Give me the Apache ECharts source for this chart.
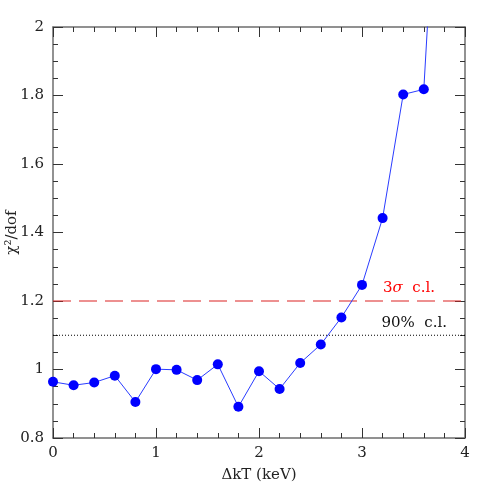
<!DOCTYPE html>
<html><head><meta charset="utf-8">
<script src="https://cdn.jsdelivr.net/npm/echarts@6/dist/echarts.min.js"></script>
<style>html,body{margin:0;padding:0;background:#fff}#c{width:491px;height:491px}</style>
</head><body><div id="c"></div>
<script>
const dkT = [0, 0.2, 0.4, 0.6, 0.8, 1.0, 1.2, 1.4, 1.6, 1.8, 2.0, 2.2, 2.4, 2.6, 2.8, 3.0, 3.2, 3.4, 3.6, 3.8];
const chi2dof = [0.964, 0.954, 0.962, 0.982, 0.905, 1.001, 0.999, 0.969, 1.015, 0.891, 0.995, 0.943, 1.019, 1.073, 1.152, 1.247, 1.442, 1.803, 1.818, 2.86];
const xRange = [0, 4];
const sigma3Level = 1.2;
const cl90Level = 1.1;

const font = 'DejaVu Serif';
const fs = 15;
const axisColor = '#6e6e6e';
const chart = echarts.init(document.getElementById('c'));
const tickStyle = {color: '#333', width: 1};
function axisCommon(minorSplit) {
  return {
    axisLine: {show: true, onZero: false, lineStyle: {color: axisColor, width: 1.5}},
    axisTick: {show: true, inside: true, length: 10, lineStyle: tickStyle},
    minorTick: {show: true, splitNumber: minorSplit, length: 5, lineStyle: tickStyle},
    splitLine: {show: false}
  };
}
function levelSeries(level, color, dash, width, label) {
  return {
    type: 'line', xAxisIndex: 0, yAxisIndex: 0, silent: true,
    data: xRange.map(x => [x, level]),
    symbol: 'none',
    itemStyle: {color: color},
    lineStyle: {color: color, type: dash, width: width},
    markLine: {silent: true, symbol: 'none',
      lineStyle: {color: 'rgba(255,255,255,0)', width: 1, type: 'solid'}, label: label,
      data: [{yAxis: level}]}
  };
}
chart.setOption({
  animation: false,
  grid: {left: 53, right: 26, top: 27, bottom: 53, containLabel: false, outerBoundsMode: 'none'},
  xAxis: [
    Object.assign({type: 'value', min: xRange[0], max: xRange[1], interval: 1, position: 'bottom',
      name: 'ΔkT (keV)', nameLocation: 'middle', nameGap: 30, nameMoveOverlap: false,
      nameTextStyle: {fontFamily: font, fontSize: fs, color: '#222'},
      axisLabel: {fontFamily: font, fontSize: fs, color: '#222', margin: 8}}, axisCommon(5)),
    Object.assign({type: 'value', min: xRange[0], max: xRange[1], interval: 1, position: 'top',
      axisLabel: {show: false}}, axisCommon(5))
  ],
  yAxis: [
    Object.assign({type: 'value', min: 0.8, max: 2, interval: 0.2, position: 'left',
      name: 'χ²/dof', nameLocation: 'middle', nameGap: 33, nameMoveOverlap: false,
      nameTextStyle: {fontFamily: font, fontSize: fs, color: '#222'},
      axisLabel: {fontFamily: font, fontSize: fs, color: '#222', margin: 9,
        formatter: v => String(Math.round(v * 10) / 10)}}, axisCommon(4)),
    Object.assign({type: 'value', min: 0.8, max: 2, interval: 0.2, position: 'right',
      axisLabel: {show: false}}, axisCommon(4))
  ],
  series: [
    levelSeries(sigma3Level, '#dc2222', [18, 8], 1.2,
      {show: true, position: 'insideEndTop', distance: [30, 5],
        formatter: '{a|3}{b|σ}{a|  c.l.}',
        rich: {a: {fontFamily: font, fontSize: fs, color: '#ff0000'},
               b: {fontFamily: font, fontSize: fs, color: '#ff0000', fontStyle: 'italic'}}}),
    levelSeries(cl90Level, '#000000', [1, 2], 1,
      {show: true, position: 'insideEndTop', distance: [18, 5],
        formatter: '90%  c.l.', fontFamily: font, fontSize: fs, color: '#111'}),
    {
      type: 'line',
      xAxisIndex: 0, yAxisIndex: 0,
      data: dkT.map((x, i) => [x, chi2dof[i]]),
      clip: true,
      symbol: 'circle', symbolSize: 10,
      itemStyle: {color: '#0000ff'},
      lineStyle: {color: '#2a3cff', width: 1}
    }
  ]
});
</script></body></html>
